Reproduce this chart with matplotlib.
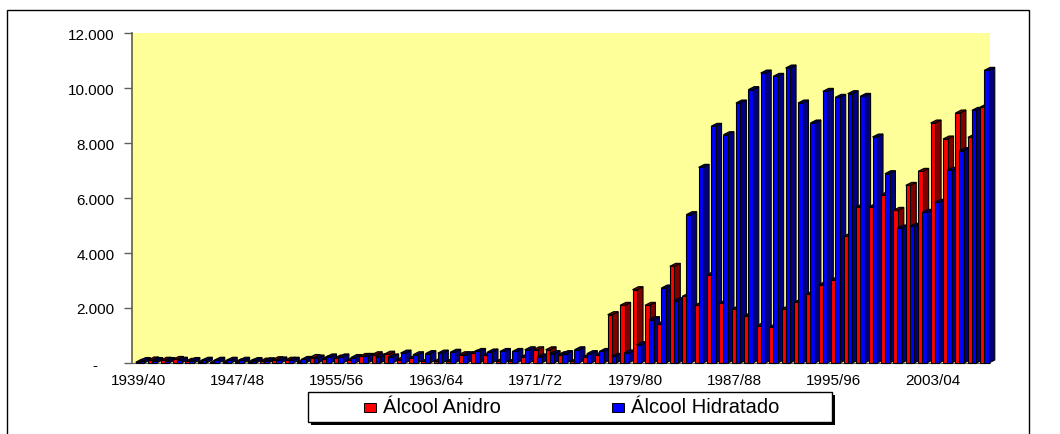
import matplotlib
matplotlib.use("Agg")
import matplotlib.pyplot as plt
from matplotlib.patches import Rectangle

plt.rcParams['font.family'] = ['Liberation Sans', 'DejaVu Sans']

# safras 1939/40 a 2007/08
safras = ["%d/%02d" % (a, (a + 1) % 100) for a in range(1939, 2008)]

anidro = [30, 110, 100, 130, 60, 30, 20, 30, 40, 30, 70, 120, 100, 40,
          200, 150, 180, 100, 240, 300, 320, 120, 180, 60, 60, 60, 300,
          360, 300, 60, 60, 220, 480, 480, 300, 60, 220, 300,
          1757, 2097, 2666, 2097, 1430, 3515, 2424, 2097, 3212, 2182,
          1963, 1721, 1357, 1309, 1963, 2206, 2509, 2848, 3030, 4606,
          5672, 5672, 6121, 5551, 6460, 6969, 8727, 8145, 9090, 8206, 9309]
hidratado = [90, 90, 90, 100, 90, 100, 100, 100, 100, 90, 80, 110, 100, 130,
             180, 220, 220, 200, 240, 220, 220, 360, 300, 340, 360, 390, 300,
             420, 400, 420, 420, 480, 220, 340, 340, 480, 340, 420,
             240, 364, 667, 1576, 2727, 2267, 5394, 7115, 8606, 8302,
             9454, 9940, 10544, 10424, 10727, 9454, 8727, 9878, 9660, 9793,
             9696, 8218, 6884, 4909, 4970, 5478, 5842, 7006, 7721, 9187, 10642]

W, H = 1060, 435
fig = plt.figure(figsize=(W / 100, H / 100), dpi=100, facecolor="white")

# moldura externa
fig.add_artist(Rectangle((7 / W, -0.02), 1022 / W, 1.02 - 11 / H, transform=fig.transFigure,
                         fill=False, edgecolor="black", linewidth=1))

ax = fig.add_axes([132 / W, 1 - 364 / H, 858 / W, 330 / H], facecolor="#FFFF99")
n_x = 858 / 12.42
ax.set_xlim(0, n_x)
ax.set_ylim(0, 12000)

larg = 4.6 / 12.42
passo = 4.0 / 12.42
dx = 5.9 / 12.42
dy = 3.0 / 0.0275


def barra3d(x, v, cor, cor_lado, z):
    ax.fill([x + larg, x + larg + dx, x + larg + dx, x + larg],
            [0, dy, v + dy, v], facecolor=cor_lado, edgecolor="black",
            linewidth=0.8, zorder=z, clip_on=False)
    ax.fill([x, x + dx, x + larg + dx, x + larg], [v, v + dy, v + dy, v],
            facecolor=cor_lado, edgecolor="black", linewidth=0.8, zorder=z, clip_on=False)
    ax.bar(x, v, width=larg, align="edge", color=cor, edgecolor="black",
           linewidth=0.8, zorder=z + 0.5, clip_on=False)


for i in range(len(safras)):
    barra3d(i + 0.3, anidro[i], "#FF0000", "#800000", 3 + 2 * i)
    barra3d(i + 0.3 + passo, hidratado[i], "#0000FF", "#000080", 4 + 2 * i)

ax.set_yticks(range(0, 12001, 2000))
ax.set_yticklabels(["-    ", "2.000", "4.000", "6.000", "8.000", "10.000", "12.000"])
ax.set_xticks([i + 0.5 for i in range(0, len(safras), 8)])
ax.set_xticklabels(safras[::8])
ax.tick_params(axis="y", length=6, width=1, color="#606060", pad=6.5, labelsize=11)
ax.tick_params(axis="x", length=0, pad=7.5, labelsize=11)
for s in ["top", "right"]:
    ax.spines[s].set_visible(False)
ax.spines["left"].set_color("#606040")
ax.spines["left"].set_linewidth(1.2)
ax.spines["bottom"].set_color("#606060")
ax.spines["bottom"].set_linewidth(0.8)

# legenda com sombra
fig.add_artist(Rectangle((311 / W, 1 - 426 / H), 524 / W, 30 / H, transform=fig.transFigure,
                         facecolor="black", edgecolor="black", linewidth=0))
fig.add_artist(Rectangle((307.5 / W, 1 - 423 / H), 524 / W, 30 / H, transform=fig.transFigure,
                         facecolor="white", edgecolor="black", linewidth=1))
fig.add_artist(Rectangle((364 / W, 1 - 413 / H), 12 / W, 9 / H, transform=fig.transFigure,
                         facecolor="#FF0000", edgecolor="black", linewidth=0.7))
fig.add_artist(Rectangle((612 / W, 1 - 413 / H), 12 / W, 9 / H, transform=fig.transFigure,
                         facecolor="#0000FF", edgecolor="black", linewidth=0.7))
fig.text(383 / W, 1 - 408 / H, "Álcool Anidro", fontsize=14.5, va="center", ha="left")
fig.text(631 / W, 1 - 408 / H, "Álcool Hidratado", fontsize=14.5, va="center", ha="left")

fig.savefig("out.png", dpi=100)
